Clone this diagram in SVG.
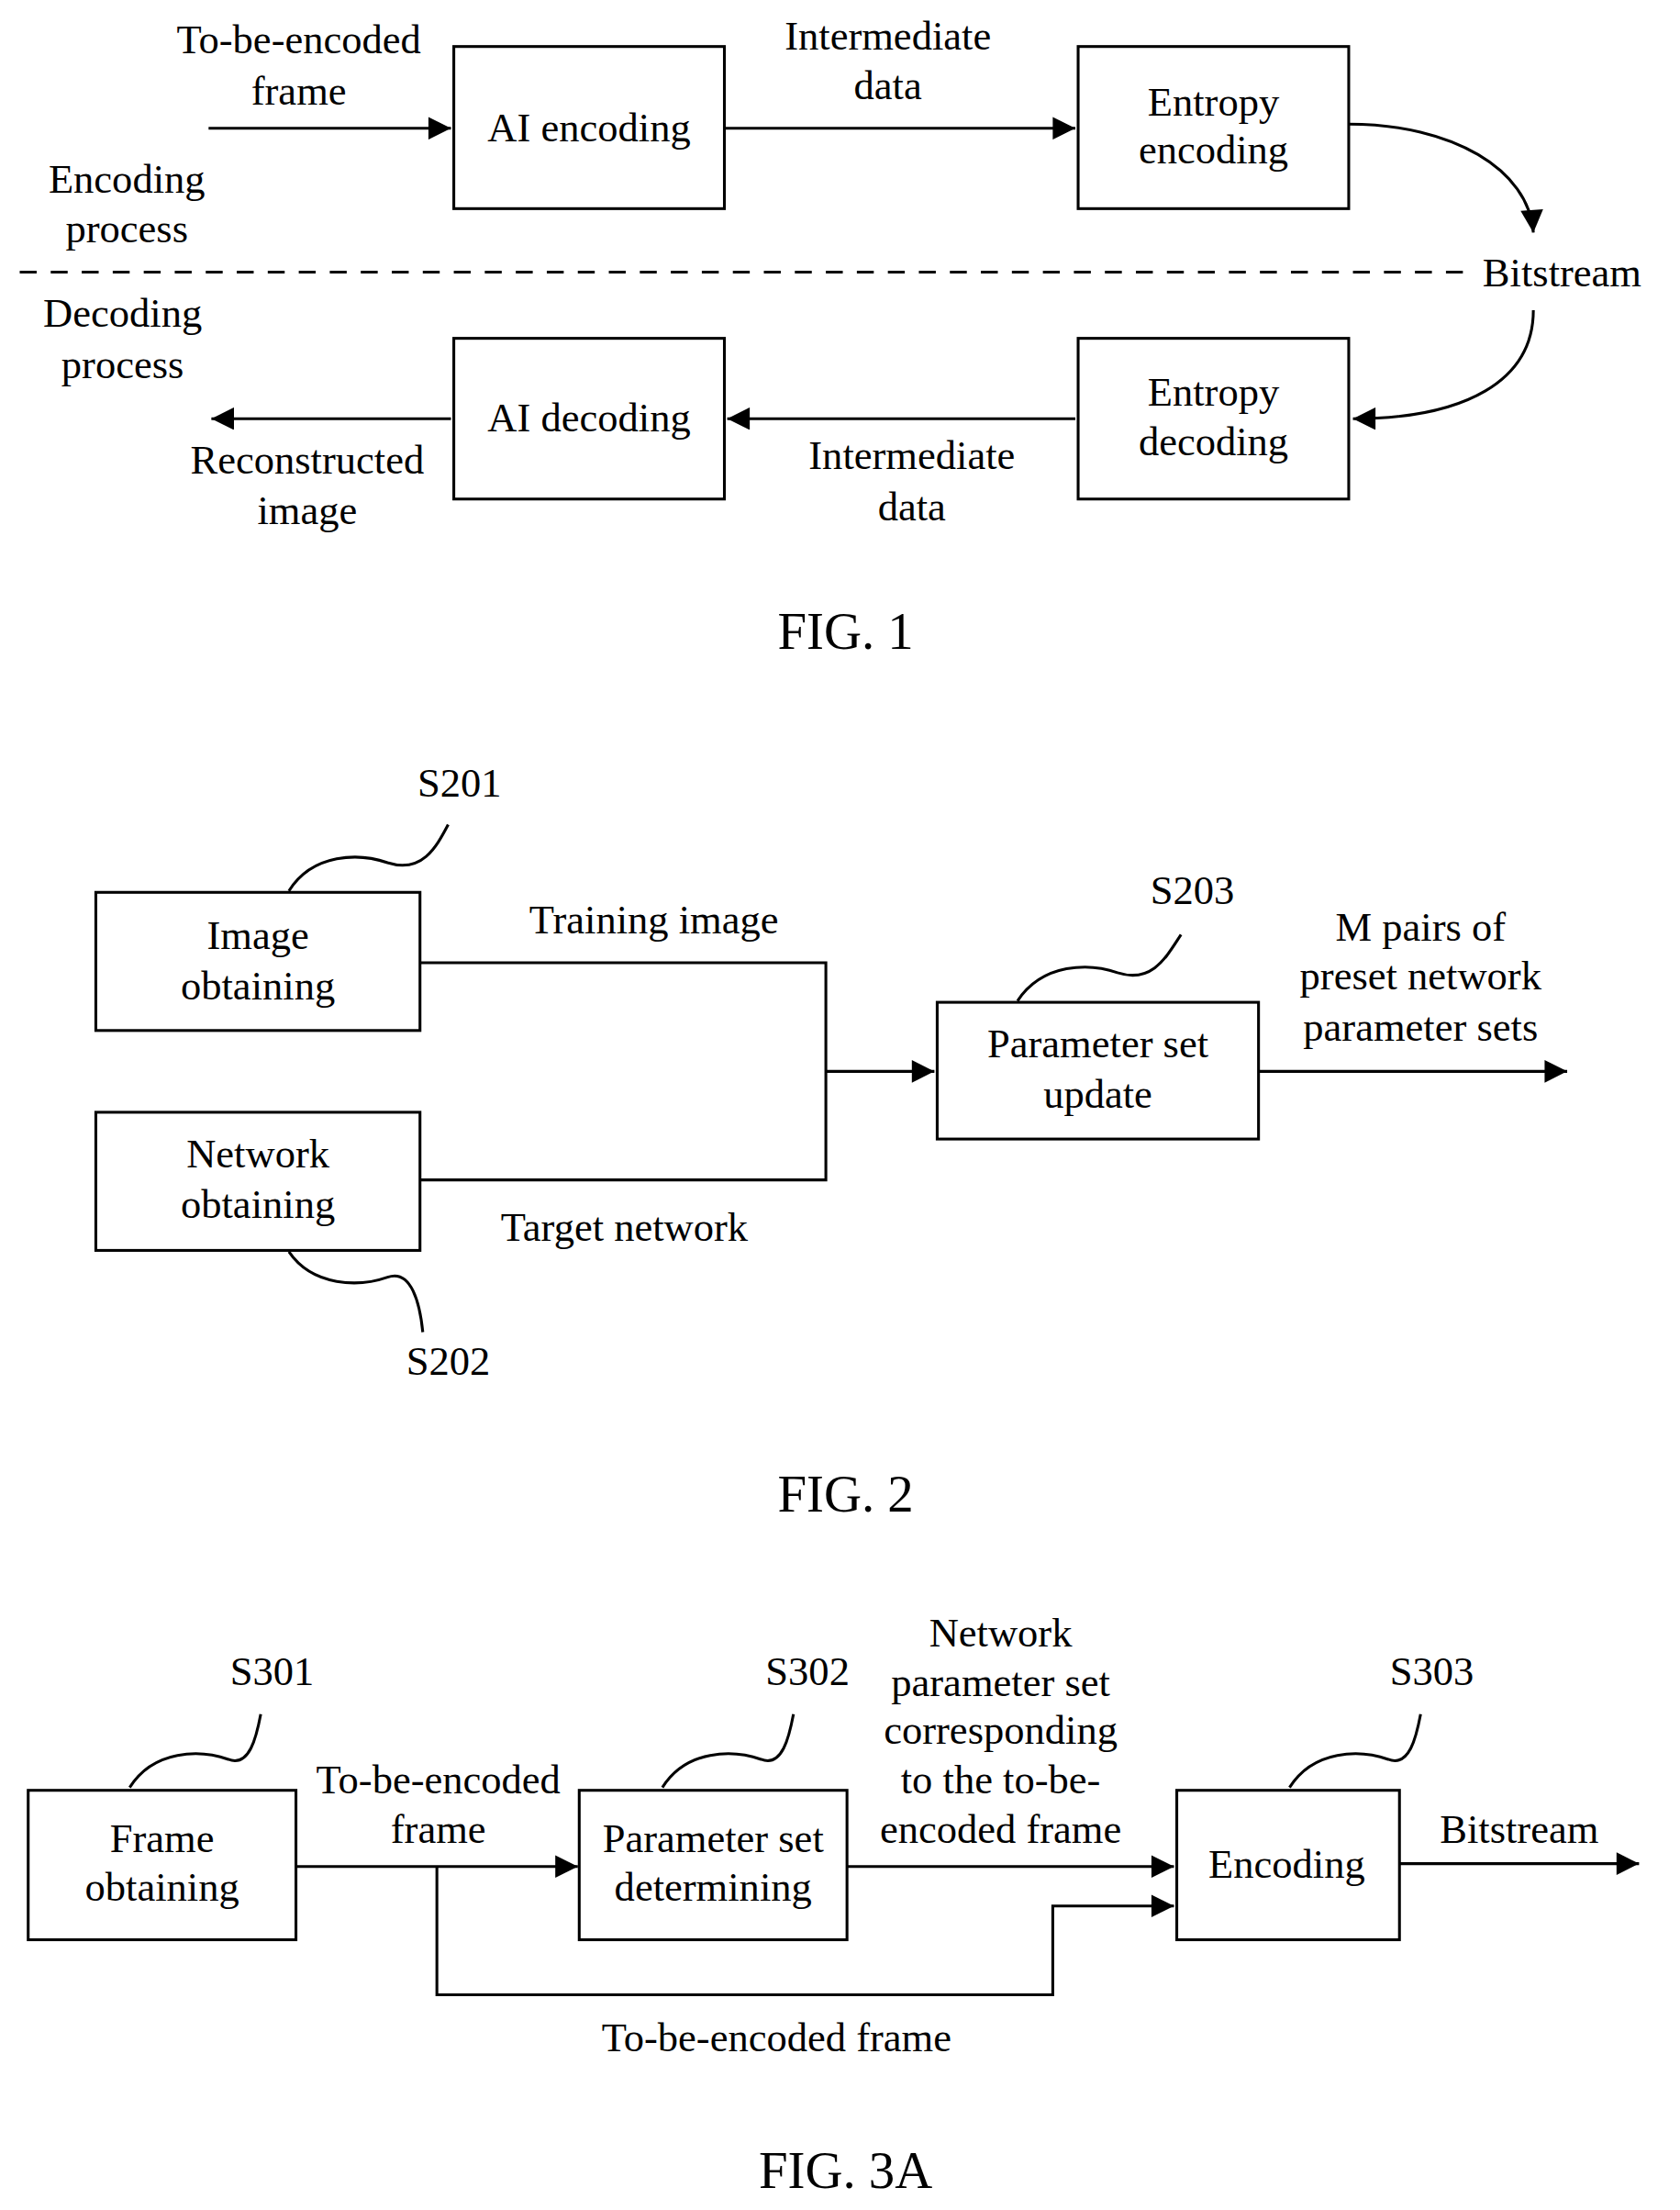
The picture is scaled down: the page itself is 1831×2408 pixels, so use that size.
<svg xmlns="http://www.w3.org/2000/svg" width="1831" height="2408" viewBox="0 0 1831 2408">
<style>
text{font-family:"Liberation Serif","Times New Roman",serif;font-size:29px;fill:#000;text-anchor:middle}
.fig{font-size:37px}
.l{text-anchor:start}
rect{fill:#fff;stroke:#000;stroke-width:2}
.c{fill:none;stroke:#000;stroke-width:2}
</style>
<defs>
<marker id="a" viewBox="0 0 10 10" refX="10" refY="5" markerWidth="9" markerHeight="9" markerUnits="userSpaceOnUse" orient="auto"><path d="M0,0L10,5L0,10z" fill="#000"/></marker>
<marker id="b" viewBox="0 0 10 10" refX="10" refY="5" markerWidth="20" markerHeight="16" markerUnits="userSpaceOnUse" orient="auto"><path d="M0,0L10,5L0,10z" fill="#000"/></marker>
</defs>
<rect x="0" y="0" width="1831" height="2408" style="stroke:none"/>
<g transform="scale(1.536)">
<g id="connectors">
<line class="c" x1="148" y1="91" x2="320" y2="91" marker-end="url(#b)"/>
<line class="c" x1="514" y1="91" x2="763" y2="91" marker-end="url(#b)"/>
<path class="c" d="M957,88 C1030,88 1085,120 1088,165" marker-end="url(#b)"/>
<line class="c" x1="14" y1="193" x2="1040" y2="193" stroke-dasharray="12,10"/>
<path class="c" d="M1088,220 C1088,270 1040,297 960,297" marker-end="url(#b)"/>
<line class="c" x1="763" y1="297" x2="516" y2="297" marker-end="url(#b)"/>
<line class="c" x1="320" y1="297" x2="150" y2="297" marker-end="url(#b)"/>
<polyline class="c" points="298,683 586,683 586,837 298,837"/>
<line class="c" x1="586" y1="760" x2="663" y2="760" marker-end="url(#b)"/>
<line class="c" x1="893" y1="760" x2="1112" y2="760" marker-end="url(#b)"/>
<line class="c" x1="210" y1="1324" x2="410" y2="1324" marker-end="url(#b)"/>
<polyline class="c" points="310,1324 310,1415 747,1415 747,1352 833,1352" marker-end="url(#b)"/>
<line class="c" x1="601" y1="1324" x2="833" y2="1324" marker-end="url(#b)"/>
<line class="c" x1="993" y1="1322" x2="1163" y2="1322" marker-end="url(#b)"/>
<path class="c" d="M205,632 C222,605 255,605 275,612 C300,620 310,600 318,585"/>
<path class="c" d="M722,710 C740,683 773,683 793,690 C818,698 828,678 838,663"/>
<path class="c" d="M205,888 C222,913 255,913 275,906 C292,900 298,925 300,945"/>
<path class="c" d="M92,1268 C109,1241 142,1241 162,1248 C177,1254 182,1232 185,1216"/>
<path class="c" d="M470,1268 C487,1241 520,1241 540,1248 C555,1254 560,1232 563,1216"/>
<path class="c" d="M915,1268 C932,1241 965,1241 985,1248 C1000,1254 1005,1232 1008,1216"/>
</g>
<g id="fig1">
<text x="212" y="38">To-be-encoded</text><text x="212" y="74">frame</text>
<g id="ai-enc"><rect x="322" y="33" width="192" height="115"/><text x="418" y="100">AI encoding</text></g>
<text x="630" y="35">Intermediate</text><text x="630" y="70">data</text>
<g id="ent-enc"><rect x="765" y="33" width="192" height="115"/><text x="861" y="82">Entropy</text><text x="861" y="116">encoding</text></g>
<text x="90" y="137">Encoding</text><text x="90" y="172">process</text>
<text class="l" x="1052" y="203">Bitstream</text>
<text x="87" y="232">Decoding</text><text x="87" y="268">process</text>
<g id="ai-dec"><rect x="322" y="240" width="192" height="114"/><text x="418" y="306">AI decoding</text></g>
<g id="ent-dec"><rect x="765" y="240" width="192" height="114"/><text x="861" y="288">Entropy</text><text x="861" y="323">decoding</text></g>
<text x="647" y="333">Intermediate</text><text x="647" y="369">data</text>
<text x="218" y="336">Reconstructed</text><text x="218" y="372">image</text>
<text class="fig" x="600" y="460">FIG. 1</text>
</g>
<g id="fig2">
<g id="s201"><rect x="68" y="633" width="230" height="98"/><text x="183" y="673">Image</text><text x="183" y="709">obtaining</text></g>
<text x="326" y="565">S201</text>
<g id="s202"><rect x="68" y="789" width="230" height="98"/><text x="183" y="828">Network</text><text x="183" y="864">obtaining</text></g>
<text x="318" y="975">S202</text>
<text x="464" y="662">Training image</text>
<text x="443" y="880">Target network</text>
<g id="s203"><rect x="665" y="711" width="228" height="97"/><text x="779" y="750">Parameter set</text><text x="779" y="786">update</text></g>
<text x="846" y="641">S203</text>
<text x="1008" y="667">M pairs of</text><text x="1008" y="702">preset network</text><text x="1008" y="738">parameter sets</text>
<text class="fig" x="600" y="1072">FIG. 2</text>
</g>
<g id="fig3a">
<g id="s301"><rect x="20" y="1270" width="190" height="106"/><text x="115" y="1314">Frame</text><text x="115" y="1348">obtaining</text></g>
<text x="193" y="1195">S301</text>
<text x="311" y="1272">To-be-encoded</text><text x="311" y="1307">frame</text>
<g id="s302"><rect x="411" y="1270" width="190" height="106"/><text x="506" y="1314">Parameter set</text><text x="506" y="1348">determining</text></g>
<text x="573" y="1195">S302</text>
<text x="710" y="1168">Network</text><text x="710" y="1203">parameter set</text><text x="710" y="1237">corresponding</text><text x="710" y="1272">to the to-be-</text><text x="710" y="1307">encoded frame</text>
<g id="s303"><rect x="835" y="1270" width="158" height="106"/><text x="913" y="1332">Encoding</text></g>
<text x="1016" y="1195">S303</text>
<text x="1078" y="1307">Bitstream</text>
<text x="551" y="1455">To-be-encoded frame</text>
<text class="fig" x="600" y="1552">FIG. 3A</text>
</g>
</g>
</svg>
